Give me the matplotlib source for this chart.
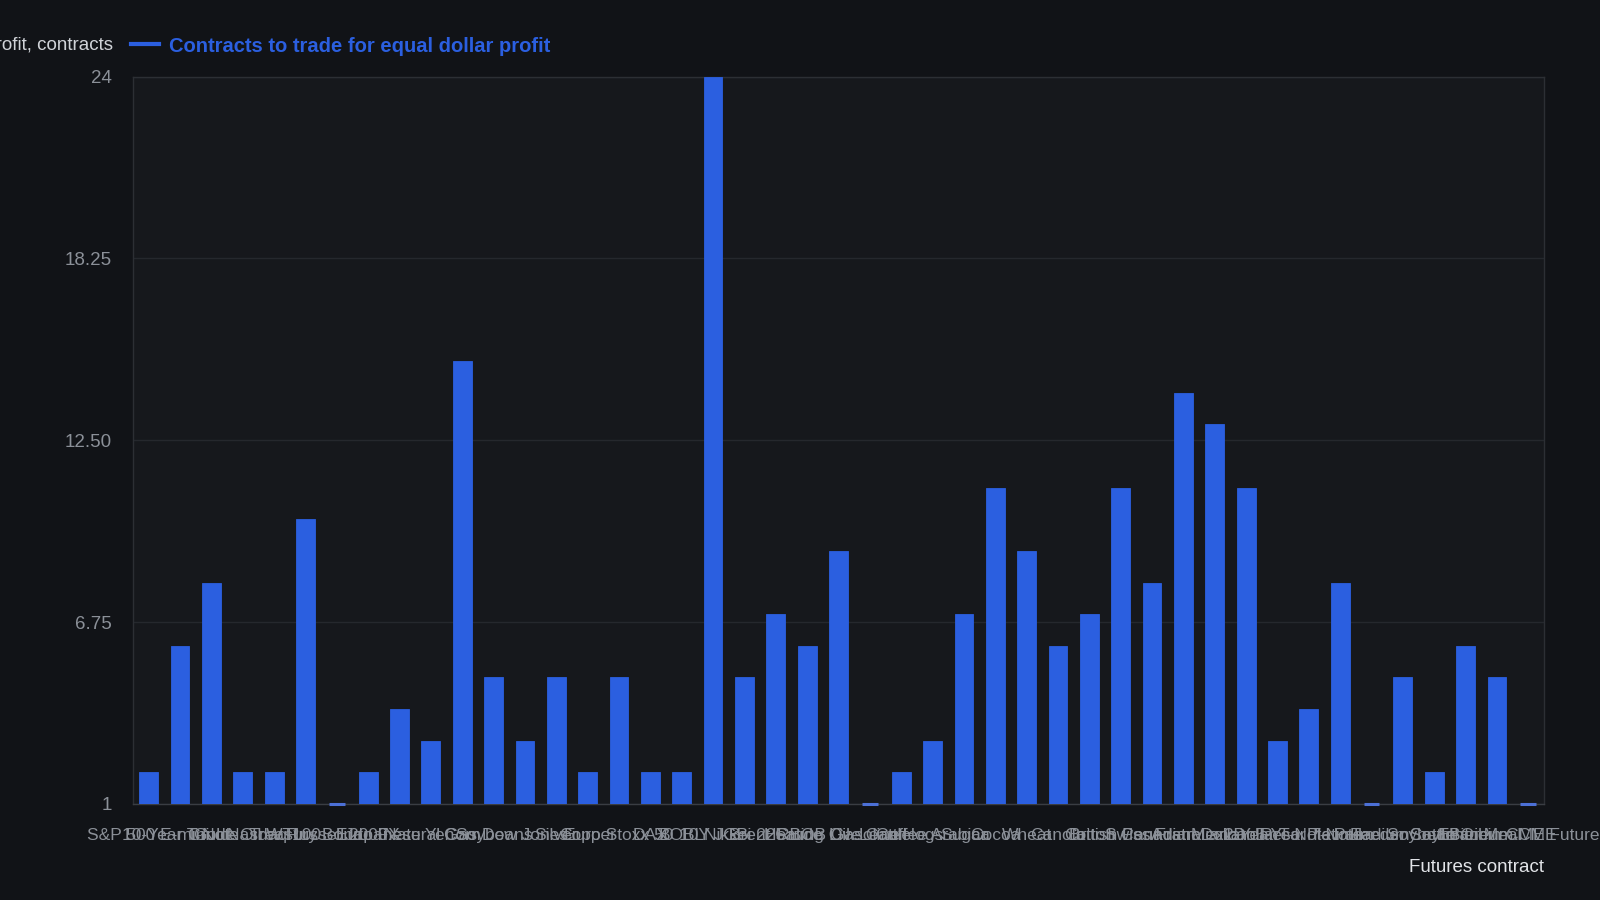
import numpy as np
import matplotlib
matplotlib.use("Agg")
import matplotlib.pyplot as plt
from matplotlib.lines import Line2D

plt.rcParams['font.family'] = ['Liberation Sans', 'DejaVu Sans']

contracts = [
    "S&P 500 E-mini", "10-Year T-Note", "Gold", "Crude Oil WTI", "Nasdaq 100",
    "Treasury Bond", "Russell 2000", "Euro FX", "Japanese Yen", "Natural Gas",
    "Corn", "Soybeans", "Dow Jones", "Silver", "Copper",
    "Euro Stoxx 50", "DAX", "BOBL", "10Y JGB", "Nikkei 225",
    "Brent Crude", "Heating Oil", "RBOB Gasoline", "Live Cattle", "Lean Hogs",
    "Coffee Arabica", "Sugar", "Cocoa", "Wheat", "Canola",
    "Cotton", "British Pound", "Swiss Franc", "Canadian Dollar", "Australian Dollar",
    "Mexican Peso", "2-Year T-Note", "5-Year T-Note", "Platinum", "Palladium",
    "Feeder Cattle", "Soybean Oil", "Soybean Meal", "Ethereum CME", "Bitcoin CME Futures",
]
n_contracts = [
    2, 6, 8, 2, 2, 10, 1, 2, 4, 3,
    15, 5, 3, 5, 2, 5, 2, 2, 24, 5,
    7, 6, 9, 1, 2, 3, 7, 11, 9, 6,
    7, 11, 8, 14, 13, 11, 3, 4, 8, 1,
    5, 2, 6, 5, 1,
]
yticks = [1, 6.75, 12.5, 18.25, 24]
ytick_labels = ["1", "6.75", "12.50", "18.25", "24"]

bg = "#111317"
plot_bg = "#16181c"
blue = "#2b5fe0"
grey = "#8b9098"

fig = plt.figure(figsize=(16, 9), dpi=100, facecolor=bg)
ax = fig.add_axes([133/1600, 1-804/900, (1544-133)/1600, (804-76.5)/900])
ax.set_facecolor(plot_bg)

x = np.arange(len(contracts))
vals = np.array(n_contracts, dtype=float)
ax.bar(x, vals - 1, bottom=1, width=0.6, color=blue, edgecolor=blue, linewidth=0.6, zorder=3)

# bars at the axis minimum still show a thin stub, as in the original chart
ymin = yticks[0]
flat = x[vals <= ymin]
ax.hlines(np.full(len(flat), ymin), flat - 0.25, flat + 0.25, colors="#4c70d6",
          linewidth=2.2, zorder=4, clip_on=False)

ax.set_xlim(-0.5, len(contracts) - 0.5)
ax.set_ylim(yticks[0], yticks[-1])
ax.set_yticks(yticks)
ax.set_yticklabels(ytick_labels)
ax.set_xticks(x)
ax.set_xticklabels(contracts)
ax.tick_params(axis='y', length=0, pad=15, colors=grey, labelsize=13.5)
ax.tick_params(axis='x', length=0, pad=17, colors=grey, labelsize=12.5)
ax.yaxis.grid(True, color="#25282d", linewidth=1.0, zorder=0)
for s in ax.spines.values():
    s.set_color("#2c2f34")
    s.set_linewidth(1.0)
ax.spines['bottom'].set_color("#3a3d43")

fig.text(113/1600, 1-46/900, "Equal-dollar profit, contracts", ha='right', va='center',
         color="#d0d3d8", fontsize=13.5)
fig.text(1544/1600, 1-867/900, "Futures contract", ha='right', va='center',
         color="#e2e4e8", fontsize=13.5)

handle = Line2D([], [], color=blue, linewidth=3)
leg = fig.legend([handle], ["Contracts to trade for equal dollar profit"],
                 loc='center left', bbox_to_anchor=(131/1600, 1-46/900),
                 frameon=False, handlelength=1.4, handletextpad=0.5,
                 borderpad=0, borderaxespad=0, fontsize=14.5)
for t in leg.get_texts():
    t.set_color(blue)
    t.set_fontweight('bold')

fig.savefig("out.png", dpi=100, facecolor=bg)
